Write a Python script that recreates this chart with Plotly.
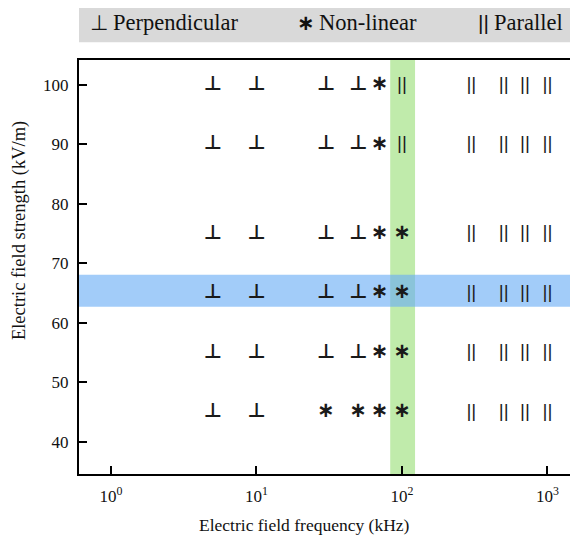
import plotly.graph_objects as go

# Data
perp_freq = [5, 10, 30, 50, 5, 10, 30, 50, 5, 10, 30, 50, 5, 10, 30, 50, 5, 10, 30, 50, 5, 10]
perp_field = [100, 100, 100, 100, 90, 90, 90, 90, 75, 75, 75, 75, 65, 65, 65, 65, 55, 55, 55, 55, 45, 45]

nonlin_freq = [70, 70, 70, 100, 70, 100, 70, 100, 30, 50, 70, 100]
nonlin_field = [100, 90, 75, 75, 65, 65, 55, 55, 45, 45, 45, 45]

par_freq = [100, 300, 500, 700, 1000, 100, 300, 500, 700, 1000,
            300, 500, 700, 1000, 300, 500, 700, 1000, 300, 500, 700, 1000, 300, 500, 700, 1000]
par_field = [100, 100, 100, 100, 100, 90, 90, 90, 90, 90,
             75, 75, 75, 75, 65, 65, 65, 65, 55, 55, 55, 55, 45, 45, 45, 45]

x_tickvals = [1, 10, 100, 1000]
x_ticktext = ["10<sup>0</sup>", "10<sup>1</sup>", "10<sup>2</sup>", "10<sup>3</sup>"]
y_tickvals = [40, 50, 60, 70, 80, 90, 100]

freq_band = [83, 123]
field_band = [62.7, 68.1]

x_title = "Electric field frequency (kHz)"
y_title = "Electric field strength (kV/m)"
legend_symbols = ["⊥", "<b>∗</b>", "||"]
legend_labels = ["Perpendicular", "Non-linear", "Parallel"]

fig = go.Figure()

fig.add_shape(type="rect", xref="x", yref="paper", x0=freq_band[0], x1=freq_band[1], y0=0, y1=1,
              fillcolor="rgba(150,222,115,0.6)", line_width=0, layer="below")
fig.add_shape(type="rect", xref="paper", yref="y", x0=0, x1=1, y0=field_band[0], y1=field_band[1],
              fillcolor="rgba(105,172,245,0.62)", line_width=0, layer="below")

glyph_font = dict(family="DejaVu Sans", color="#1a1a1a")
fig.add_trace(go.Scatter(x=perp_freq, y=perp_field, mode="text", text=["<b>⊥</b>"] * len(perp_freq),
                         textfont=dict(size=20, **glyph_font), textposition="middle center",
                         showlegend=False, cliponaxis=False))
fig.add_trace(go.Scatter(x=nonlin_freq, y=nonlin_field, mode="text", text=["<b>∗</b>"] * len(nonlin_freq),
                         textfont=dict(size=21, **glyph_font), textposition="middle center",
                         showlegend=False, cliponaxis=False))
fig.add_trace(go.Scatter(x=par_freq, y=par_field, mode="text", text=["||"] * len(par_freq),
                         textfont=dict(size=19, family="Liberation Sans", color="#1e1e1e"),
                         textposition="middle center",
                         showlegend=False, cliponaxis=False))

# Legend bar
fig.add_shape(type="rect", xref="paper", yref="paper", x0=0, x1=1.2, y0=1.043, y1=1.16,
              fillcolor="#d9d9d9", line_width=0)
sym_x = [0.018, 0.433, 0.796]
lab_x = [0.064, 0.477, 0.828]
sym_fonts = [dict(family="DejaVu Sans", size=21), dict(family="DejaVu Sans", size=21),
             dict(family="Liberation Sans", size=21)]
for sx, lx, sym, lab, sf in zip(sym_x, lab_x, legend_symbols, legend_labels, sym_fonts):
    fig.add_annotation(xref="paper", yref="paper", x=sx, y=1.09, text=sym, showarrow=False,
                       xanchor="left", yanchor="middle", font=dict(color="#111111", **sf))
    fig.add_annotation(xref="paper", yref="paper", x=lx, y=1.09, text=lab, showarrow=False,
                       xanchor="left", yanchor="middle",
                       font=dict(family="Liberation Serif", size=22.5, color="#111111"))

# Axis titles (positioned as in the reference)
fig.add_annotation(xref="paper", yref="paper", x=0.451, y=-0.123, text=x_title, showarrow=False,
                   xanchor="center", yanchor="middle",
                   font=dict(family="Liberation Serif", size=17.5, color="#111111"))
fig.add_annotation(xref="paper", yref="paper", x=-0.118, y=0.587, text=y_title, showarrow=False,
                   textangle=-90, xanchor="center", yanchor="middle",
                   font=dict(family="Liberation Serif", size=18.5, color="#111111"))

fig.update_xaxes(type="log", range=[-0.22, 3.21], tickvals=x_tickvals, ticktext=x_ticktext,
                 ticks="inside", ticklen=8, tickwidth=2, tickcolor="black",
                 showline=True, linecolor="black", linewidth=2, mirror=True,
                 showgrid=False, zeroline=False, automargin=False, ticklabelstandoff=6,
                 tickfont=dict(family="Liberation Serif", size=17, color="#111111"))
fig.update_yaxes(range=[34.6, 104.2], tickvals=y_tickvals,
                 ticks="inside", ticklen=8, tickwidth=2, tickcolor="black",
                 showline=True, linecolor="black", linewidth=2, mirror=False,
                 showgrid=False, zeroline=False, automargin=False, ticklabelstandoff=5,
                 tickfont=dict(family="Liberation Serif", size=17, color="#111111"))

fig.update_layout(width=570, height=529, margin=dict(l=71, r=0, t=52, b=63, autoexpand=False),
                  plot_bgcolor="white", paper_bgcolor="white", showlegend=False)

fig.write_html("out.html")
